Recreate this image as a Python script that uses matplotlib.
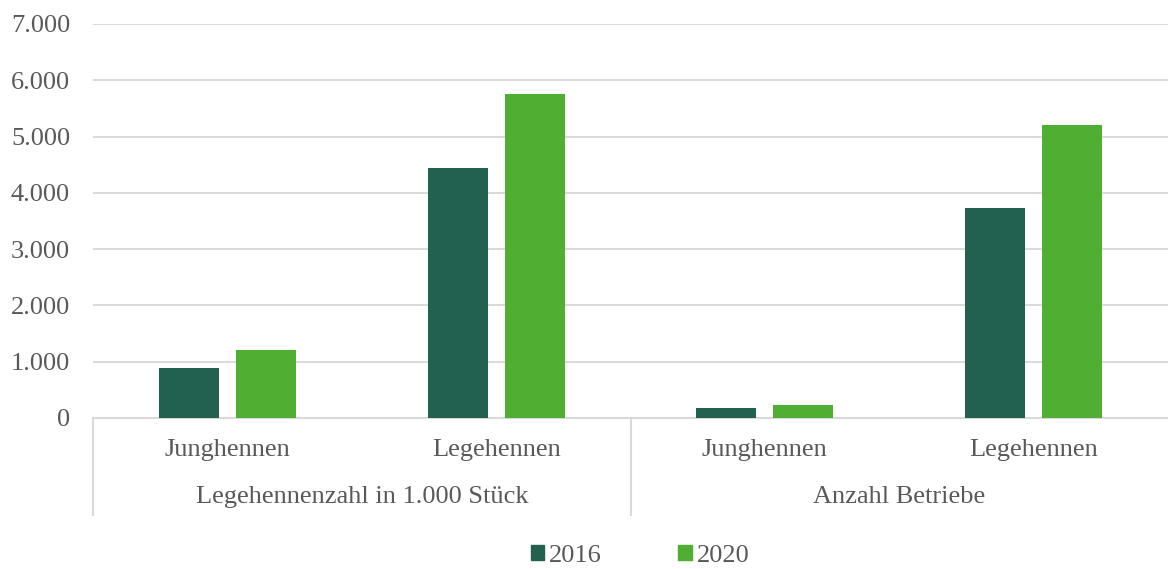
import matplotlib.pyplot as plt
import numpy as np
from matplotlib.patches import Patch
import matplotlib.transforms as mtransforms

categories = ["Junghennen", "Legehennen", "Junghennen", "Legehennen"]
groups = ["Legehennenzahl in 1.000 Stück", "Anzahl Betriebe"]
values_2016 = [880, 4440, 175, 3730]
values_2020 = [1215, 5750, 230, 5205]
yticks = [0, 1000, 2000, 3000, 4000, 5000, 6000, 7000]

c2016 = "#226150"
c2020 = "#50AE32"
tcol = "#595959"
gcol = "#D9D9D9"
fs = 19

plt.rcParams["font.family"] = ["Liberation Serif", "DejaVu Serif"]

fig = plt.figure(figsize=(11.68, 5.69), dpi=100)
ax = fig.add_axes([93 / 1168, 1 - 418 / 569, 1 - 93 / 1168, (418 - 24) / 569])

x = np.arange(len(categories))
w = 0.223
off = 0.143
ax.bar(x - off, values_2016, w, color=c2016, zorder=3)
ax.bar(x + off, values_2020, w, color=c2020, zorder=3)

ax.set_xlim(-0.5, len(categories) - 0.5)
ax.set_ylim(0, 7000)
ax.set_yticks(yticks)
ax.set_yticklabels([f"{v:,}".replace(",", ".") for v in yticks])
ax.tick_params(axis="y", length=0, pad=16.5, labelsize=fs, labelcolor=tcol)
ax.set_xticks([])
ax.grid(axis="y", color=gcol, linewidth=1.4, zorder=0)
for s in ["top", "right", "left"]:
    ax.spines[s].set_visible(False)
ax.spines["bottom"].set_color(gcol)
ax.spines["bottom"].set_linewidth(1.5)

trans = mtransforms.blended_transform_factory(ax.transData, ax.transAxes)
depth = -(515 - 418) / 394
for b in [-0.5, 1.5]:
    ax.plot([b, b], [0, depth], transform=trans, color=gcol, lw=1.5, clip_on=False)

for i, c in enumerate(categories):
    ax.text(i, -(450 - 418) / 394, c, transform=trans, ha="center", va="center",
            fontsize=fs, color=tcol)
for j, g in enumerate(groups):
    ax.text(2 * j + 0.5, -(497 - 418) / 394, g, transform=trans, ha="center",
            va="center", fontsize=fs, color=tcol)

handles = [Patch(color=c2016, label="2016"), Patch(color=c2020, label="2020")]
fig.legend(handles=handles, loc="center", bbox_to_anchor=(0.548, 1 - 556 / 569),
           ncol=2, frameon=False, fontsize=fs, labelcolor=tcol,
           handlelength=0.5, handleheight=0.5, handletextpad=0.2,
           columnspacing=2.9)

fig.savefig("out.png", dpi=100)
